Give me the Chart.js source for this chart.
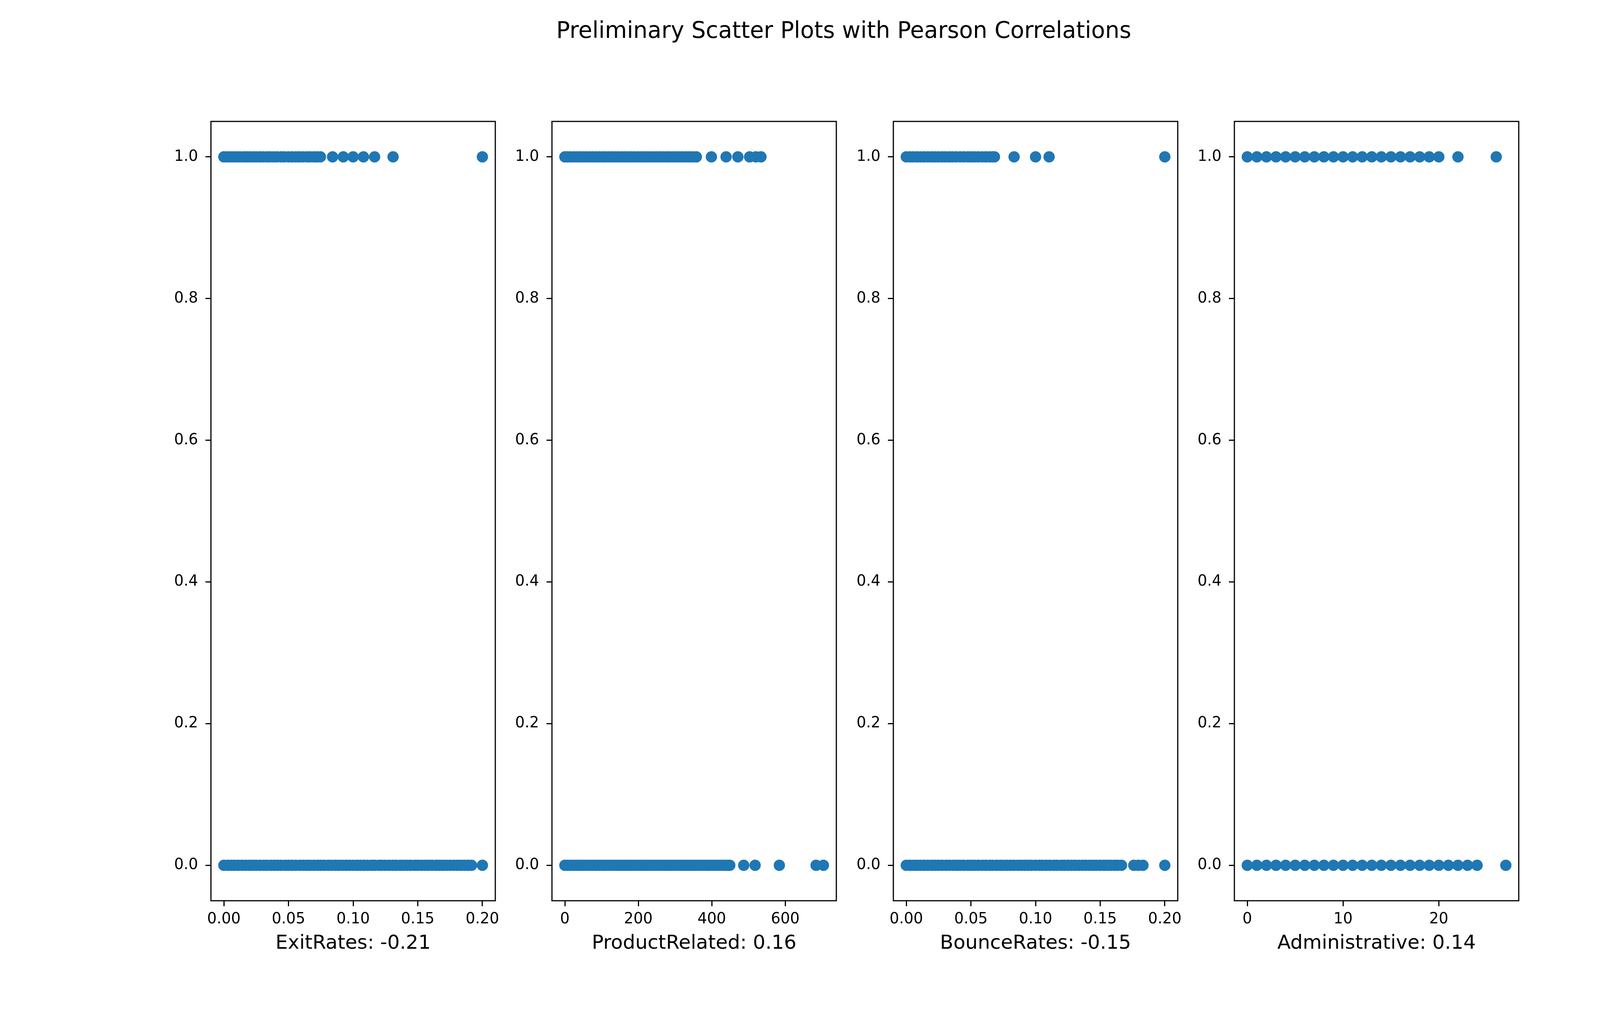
<!DOCTYPE html>
<html>
<head>
<meta charset="utf-8">
<script src="https://cdn.jsdelivr.net/npm/chart.js@4.4.1/dist/chart.umd.min.js"></script>
<style>
html, body { margin: 0; padding: 0; background: #fff; }
#page { position: relative; width: 4320px; height: 2592px; overflow: hidden; background: #fff; }
#title { position: absolute; left: 0; top: 48px; width: 4320px; text-align: center;
         font-family: 'DejaVu Sans'; font-size: 58px; line-height: 58px; color: #000; }
canvas { position: absolute; top: 0; }
</style>
</head>
<body>
<div id="page">
  <div id="title"></div>
  <canvas id="c0" width="988" height="2592"></canvas>
  <canvas id="c1" width="988" height="2592"></canvas>
  <canvas id="c2" width="988" height="2592"></canvas>
  <canvas id="c3" width="988" height="2592"></canvas>
</div>
<script>
// data
const chartTitle = 'Preliminary Scatter Plots with Pearson Correlations';
const outcomeLevels = [1, 0];   // Revenue = 1 (top row), Revenue = 0 (bottom row)
const yTicks = [0, 0.2, 0.4, 0.6, 0.8, 1.0];
const yTickLabels = ['0.0', '0.2', '0.4', '0.6', '0.8', '1.0'];

const featureNames = ['ExitRates', 'ProductRelated', 'BounceRates', 'Administrative'];
const correlations = ['-0.21', '0.16', '-0.15', '0.14'];

const exitRatesRev1 = [0.0, 0.0025, 0.005, 0.0077, 0.01, 0.0125, 0.0154, 0.0176, 0.02, 0.0228,
  0.025, 0.0278, 0.0303, 0.0333, 0.0357, 0.0385, 0.0411, 0.0444, 0.0467, 0.05, 0.0526, 0.0556,
  0.0583, 0.0611, 0.0643, 0.0667, 0.0698, 0.0722, 0.0747, 0.0841, 0.0924, 0.1, 0.108, 0.1166,
  0.1309, 0.2];
const exitRatesRev0 = [0.0, 0.0029, 0.0057, 0.0083, 0.0111, 0.0139, 0.0167, 0.0196, 0.0222, 0.025,
  0.0278, 0.0308, 0.0333, 0.0364, 0.0392, 0.0417, 0.0444, 0.0476, 0.05, 0.0526, 0.0556, 0.0588,
  0.0615, 0.0643, 0.0667, 0.0698, 0.0727, 0.075, 0.0778, 0.0808, 0.0833, 0.0862, 0.0889, 0.0917,
  0.0944, 0.0971, 0.1, 0.1029, 0.1056, 0.1083, 0.1111, 0.1143, 0.1167, 0.12, 0.1222, 0.125, 0.1278,
  0.1308, 0.1333, 0.1364, 0.1389, 0.1417, 0.1444, 0.1476, 0.15, 0.1528, 0.1556, 0.1583, 0.1611,
  0.1643, 0.1667, 0.1694, 0.1722, 0.175, 0.1778, 0.1806, 0.1833, 0.1861, 0.1889, 0.1916, 0.2];
const exitRatesTicks = [0, 0.05, 0.1, 0.15, 0.2];
const exitRatesTickLabels = ['0.00', '0.05', '0.10', '0.15', '0.20'];

const productRelatedRev1 = [0, 7, 15, 24, 33, 41, 50, 59, 68, 76, 85, 94, 103, 111, 120, 129, 138,
  146, 155, 164, 173, 181, 190, 199, 208, 216, 225, 234, 243, 251, 260, 269, 278, 286, 295, 304,
  313, 321, 330, 339, 348, 358, 399, 439, 471, 503, 520, 534];
const productRelatedRev0 = [0, 8, 16, 25, 34, 42, 51, 60, 69, 77, 86, 95, 104, 112, 121, 130, 139,
  147, 156, 165, 174, 182, 191, 200, 209, 217, 226, 235, 244, 252, 261, 270, 279, 287, 296, 305,
  314, 322, 331, 340, 349, 357, 366, 375, 384, 392, 401, 410, 419, 427, 436, 443, 449, 487, 518,
  584, 684, 704];
const productRelatedTicks = [0, 200, 400, 600];
const productRelatedTickLabels = ['0', '200', '400', '600'];

const bounceRatesRev1 = [0.0, 0.0028, 0.0054, 0.0083, 0.0111, 0.0138, 0.0167, 0.0196, 0.0222, 0.025,
  0.0278, 0.0303, 0.0333, 0.0357, 0.0385, 0.0417, 0.0444, 0.0476, 0.05, 0.0526, 0.0556, 0.0588,
  0.0615, 0.0645, 0.0667, 0.0682, 0.0834, 0.1, 0.1105, 0.2];
const bounceRatesRev0 = [0.0, 0.0029, 0.0057, 0.0083, 0.0111, 0.0139, 0.0167, 0.0196, 0.0222, 0.025,
  0.0278, 0.0308, 0.0333, 0.0364, 0.0392, 0.0417, 0.0444, 0.0476, 0.05, 0.0526, 0.0556, 0.0588,
  0.0615, 0.0645, 0.0667, 0.0698, 0.0727, 0.075, 0.0778, 0.0806, 0.0833, 0.0862, 0.0889, 0.0917,
  0.0944, 0.0968, 0.1, 0.1029, 0.1053, 0.1083, 0.1111, 0.1143, 0.1167, 0.12, 0.1222, 0.125, 0.1277,
  0.1304, 0.1333, 0.1364, 0.1389, 0.1417, 0.1444, 0.1471, 0.15, 0.1529, 0.1556, 0.1583, 0.1613,
  0.1636, 0.1665, 0.176, 0.1795, 0.1831, 0.2];
const bounceRatesTicks = [0, 0.05, 0.1, 0.15, 0.2];
const bounceRatesTickLabels = ['0.00', '0.05', '0.10', '0.15', '0.20'];

const administrativeRev1 = [0, 1, 2, 3, 4, 5, 6, 7, 8, 9, 10, 11, 12, 13, 14, 15, 16, 17, 18, 19, 20, 22, 26];
const administrativeRev0 = [0, 1, 2, 3, 4, 5, 6, 7, 8, 9, 10, 11, 12, 13, 14, 15, 16, 17, 18, 19, 20,
  21, 22, 23, 24, 27];
const administrativeTicks = [0, 10, 20];
const administrativeTickLabels = ['0', '10', '20'];

// layout (matplotlib default subplot params on a 4320x2592 figure)
const FONT = 'DejaVu Sans';
const axesLefts = [540, 1413.4, 2286.8, 3160.2];
const axesTop = 311, axesBottom = 2307, figH = 2592;
const yAxisWidth = 200, rightPad = 60;

document.getElementById('title').textContent = chartTitle;

const panels = [
  { rev1: exitRatesRev1, rev0: exitRatesRev0, ticks: exitRatesTicks, labels: exitRatesTickLabels },
  { rev1: productRelatedRev1, rev0: productRelatedRev0, ticks: productRelatedTicks, labels: productRelatedTickLabels },
  { rev1: bounceRatesRev1, rev0: bounceRatesRev0, ticks: bounceRatesTicks, labels: bounceRatesTickLabels },
  { rev1: administrativeRev1, rev0: administrativeRev0, ticks: administrativeTicks, labels: administrativeTickLabels }
];

// draws the four spines round the plot area
const frameBox = {
  id: 'frameBox',
  afterDatasetsDraw(chart) {
    const a = chart.chartArea, ctx = chart.ctx;
    ctx.save();
    ctx.lineWidth = 3;
    ctx.strokeStyle = '#000';
    ctx.strokeRect(a.left, a.top, a.right - a.left, a.bottom - a.top);
    ctx.restore();
  }
};

panels.forEach((p, i) => {
  const canvas = document.getElementById('c' + i);
  canvas.style.left = (axesLefts[i] - yAxisWidth) + 'px';

  const all = p.rev1.concat(p.rev0);
  const lo = Math.min(...all), hi = Math.max(...all);
  const margin = (hi - lo) * 0.05;

  const points = [
    ...p.rev1.map(x => ({ x: x, y: outcomeLevels[0] })),
    ...p.rev0.map(x => ({ x: x, y: outcomeLevels[1] }))
  ];

  new Chart(canvas.getContext('2d'), {
    type: 'scatter',
    data: {
      datasets: [{
        data: points,
        backgroundColor: '#1f77b4',
        borderWidth: 0,
        pointRadius: 14.5,
        pointHoverRadius: 14.5
      }]
    },
    options: {
      responsive: false,
      devicePixelRatio: 1,
      animation: false,
      events: [],
      layout: { padding: { top: axesTop, bottom: 0, left: 0, right: rightPad } },
      plugins: { legend: { display: false }, tooltip: { enabled: false } },
      scales: {
        x: {
          type: 'linear',
          min: lo - margin,
          max: hi + margin,
          afterBuildTicks: s => { s.ticks = p.ticks.map(v => ({ value: v })); },
          afterFit: s => { s.height = figH - axesBottom; },
          ticks: {
            autoSkip: false, maxRotation: 0, padding: 11, color: '#000',
            font: { family: FONT, size: 38.5 },
            callback: (v, idx) => p.labels[idx]
          },
          grid: { drawOnChartArea: false, tickLength: 14, lineWidth: 3, color: '#000' },
          border: { display: false },
          title: {
            display: true,
            text: featureNames[i] + ': ' + correlations[i],
            color: '#000',
            font: { family: FONT, size: 50 },
            padding: { top: 0, bottom: 145 }
          }
        },
        y: {
          type: 'linear',
          min: -0.05,
          max: 1.05,
          afterBuildTicks: s => { s.ticks = yTicks.map(v => ({ value: v })); },
          afterFit: s => { s.width = yAxisWidth; },
          ticks: {
            autoSkip: false, padding: 19, color: '#000',
            font: { family: FONT, size: 38.5 },
            callback: (v, idx) => yTickLabels[idx]
          },
          grid: { drawOnChartArea: false, tickLength: 14, lineWidth: 3, color: '#000' },
          border: { display: false }
        }
      }
    },
    plugins: [frameBox]
  });
});
</script>
</body>
</html>
